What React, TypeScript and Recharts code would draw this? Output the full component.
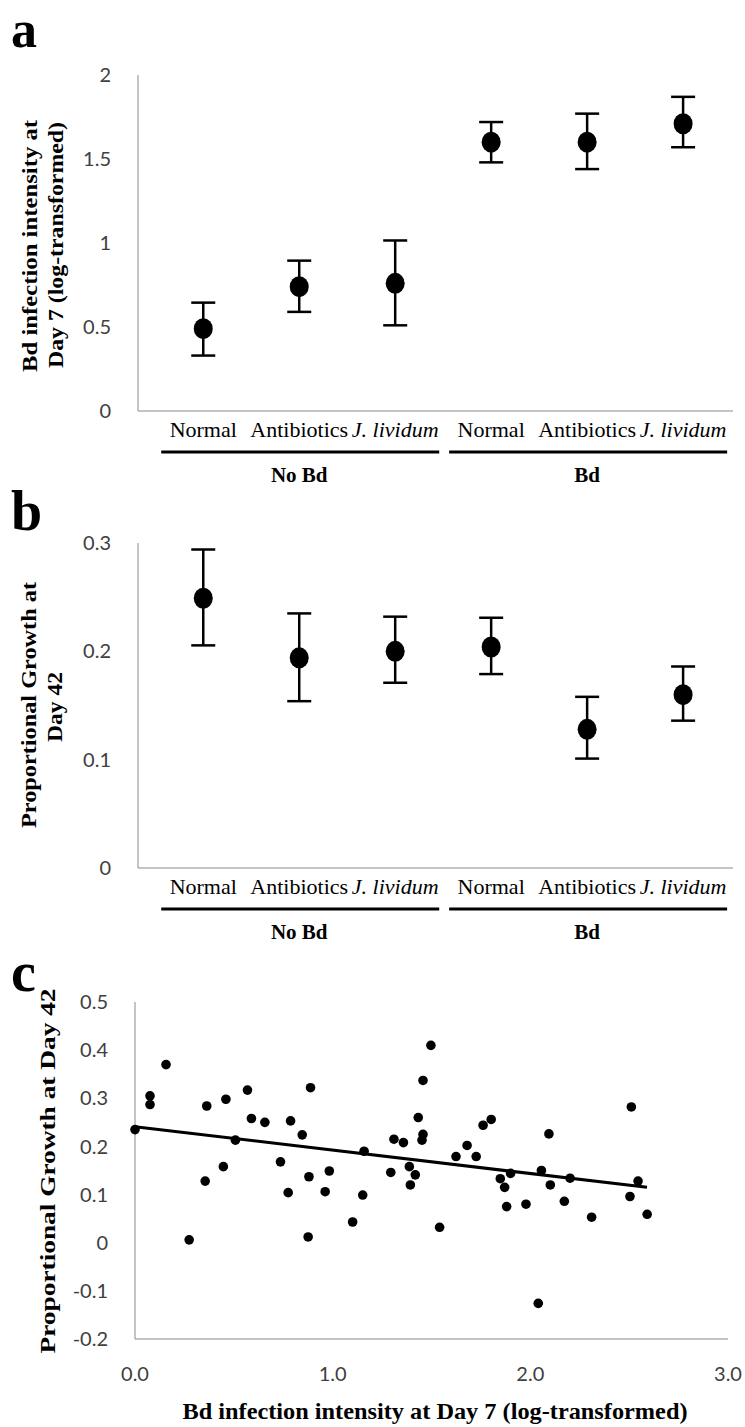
import React from 'react';
import { ScatterChart, Scatter, XAxis, YAxis, ErrorBar } from 'recharts';

// treatments on the x axis of panels a and b
const categories = ['Normal', 'Antibiotics', 'J. lividum', 'Normal', 'Antibiotics', 'J. lividum'];
const italicCategory = [false, false, true, false, false, true];
const categoryPos = [1, 2, 3, 4, 5, 6];
const categoryGroup = [0, 0, 0, 1, 1, 1];
const groupNames = ['No Bd', 'Bd'];

// panel a: Bd infection intensity at day 7 (mean, lower and upper error bar ends)
const intensityMean = [0.49, 0.74, 0.76, 1.6, 1.6, 1.71];
const intensityLow = [0.33, 0.59, 0.51, 1.48, 1.44, 1.57];
const intensityHigh = [0.645, 0.895, 1.015, 1.72, 1.77, 1.87];
const intensityTicks = [0, 0.5, 1, 1.5, 2];

// panel b: proportional growth at day 42
const growthMean = [0.249, 0.194, 0.2, 0.204, 0.128, 0.16];
const growthLow = [0.2055, 0.154, 0.171, 0.179, 0.101, 0.136];
const growthHigh = [0.294, 0.235, 0.232, 0.231, 0.158, 0.186];
const growthTicks = [0, 0.1, 0.2, 0.3];

// panel c: individual animals
const indivIntensity = [
  0, 0.076, 0.076, 0.157, 0.363, 0.355, 0.46, 0.447, 0.508, 0.274,
  0.569, 0.589, 0.657, 0.787, 0.736, 0.775, 0.846, 0.888, 0.88, 0.876,
  0.983, 0.962, 1.101, 1.152, 1.159, 1.294, 1.31, 1.358, 1.388, 1.418,
  1.393, 1.433, 1.457, 1.457, 1.452, 1.497, 1.541, 1.624, 1.68, 1.726,
  1.761, 1.802, 1.848, 1.87, 1.88, 1.9, 1.978, 2.056, 2.094, 2.101,
  2.172, 2.201, 2.31, 2.511, 2.504, 2.545, 2.591, 2.04,
];
const indivGrowth = [
  0.235, 0.305, 0.287, 0.37, 0.284, 0.128, 0.298, 0.158, 0.213, 0.006,
  0.317, 0.258, 0.25, 0.253, 0.168, 0.104, 0.224, 0.322, 0.137, 0.012,
  0.149, 0.106, 0.043, 0.099, 0.19, 0.146, 0.215, 0.208, 0.158, 0.141,
  0.12, 0.26, 0.337, 0.225, 0.213, 0.41, 0.032, 0.179, 0.202, 0.179,
  0.244, 0.256, 0.133, 0.115, 0.075, 0.144, 0.08, 0.15, 0.226, 0.12,
  0.086, 0.134, 0.053, 0.282, 0.096, 0.128, 0.059, -0.126,
];
const trendX = [0, 2.59];
const trendY = [0.241, 0.115];
const indivXTicks = [0, 1, 2, 3];
const indivYTicks = [-0.2, -0.1, 0, 0.1, 0.2, 0.3, 0.4, 0.5];

const SERIF = '"Liberation Serif", "Times New Roman", serif';
const SANS = 'Lato, "Open Sans", sans-serif';
const TICK_COLOR = '#404040';
const AXIS_COLOR = '#8a8a8a';
const CAT_DOMAIN: [number, number] = [0.32, 6.52];

const treatmentRows = (mean: number[], low: number[], high: number[]) =>
  mean.map((m, i) => ({ x: categoryPos[i], y: m, err: [m - low[i], high[i] - m] }));

// middle of each group, used to hang the group underline and name
const groupCenters = groupNames.map((_, g) => {
  const xs = categoryPos.filter((_, i) => categoryGroup[i] === g);
  return (xs[0] + xs[xs.length - 1]) / 2;
});

const indivRows = indivIntensity.map((x, i) => ({ x, y: indivGrowth[i] }));
const trendRows = trendX.map((x, i) => ({ x, y: trendY[i] }));

const CategoryTick = (props: any) => {
  const { x, y, payload } = props;
  const i = categoryPos.indexOf(payload.value);
  const g = groupCenters.indexOf(payload.value);
  return (
    <g>
      <text
        x={x}
        y={y + 26}
        textAnchor="middle"
        fontFamily={SERIF}
        fontSize={22}
        fontStyle={italicCategory[i] ? 'italic' : 'normal'}
        fill="#000"
      >
        {categories[i]}
      </text>
      {g >= 0 && (
        <g>
          <line x1={x - 138} x2={x + 140} y1={y + 41} y2={y + 41} stroke="#000" strokeWidth={3} />
          <text x={x} y={y + 71} textAnchor="middle" fontFamily={SERIF} fontWeight="bold" fontSize={21} fill="#000">
            {groupNames[g]}
          </text>
        </g>
      )}
    </g>
  );
};

const BigDot = (props: any) => <ellipse cx={props.cx} cy={props.cy} rx={9.5} ry={10.5} fill="#000" />;
const SmallDot = (props: any) => <circle cx={props.cx} cy={props.cy} r={4.8} fill="#000" />;
const NoDot = () => <g />;

function TreatmentPanel({ rows, yDomain, yTicks, top, height, marginTop }: any) {
  return (
    <div style={{ position: 'absolute', left: 0, top }}>
      <ScatterChart width={745} height={height} margin={{ top: marginTop, right: 12, bottom: 0, left: 0 }}>
        <XAxis
          type="number"
          dataKey="x"
          domain={CAT_DOMAIN}
          ticks={categoryPos}
          interval={0}
          tick={CategoryTick}
          tickLine={false}
          tickSize={0}
          tickMargin={0}
          axisLine={{ stroke: AXIS_COLOR }}
          height={89}
          allowDataOverflow
        />
        <YAxis
          type="number"
          dataKey="y"
          domain={yDomain}
          ticks={yTicks}
          interval={0}
          width={138}
          tickLine={false}
          tickSize={0}
          tickMargin={27}
          axisLine={{ stroke: AXIS_COLOR }}
          tick={{ fill: TICK_COLOR, fontSize: 20, fontFamily: SANS }}
        />
        <Scatter data={rows} dataKey="y" shape={BigDot} isAnimationActive={false}>
          <ErrorBar dataKey="err" direction="y" width={12} stroke="#000" strokeWidth={2.5} />
        </Scatter>
      </ScatterChart>
    </div>
  );
}

const titleStyle = { fontFamily: SERIF, fontWeight: 'bold' as const, fill: '#000' };

export default function App() {
  return (
    <div style={{ position: 'absolute', left: 0, top: 0, width: 745, height: 1427, background: '#fff' }}>
      <TreatmentPanel
        rows={treatmentRows(intensityMean, intensityLow, intensityHigh)}
        yDomain={[0, 2]}
        yTicks={intensityTicks}
        top={0}
        height={500}
        marginTop={75}
      />
      <TreatmentPanel
        rows={treatmentRows(growthMean, growthLow, growthHigh)}
        yDomain={[0, 0.3]}
        yTicks={growthTicks}
        top={500}
        height={457}
        marginTop={43}
      />
      <div style={{ position: 'absolute', left: 0, top: 957 }}>
        <ScatterChart width={745} height={470} margin={{ top: 45, right: 17, bottom: 0, left: 0 }}>
          <XAxis
            type="number"
            dataKey="x"
            domain={[0, 3]}
            ticks={indivXTicks}
            interval={0}
            tickFormatter={(v: number) => v.toFixed(1)}
            tickLine={false}
            tickSize={0}
            tickMargin={28}
            axisLine={{ stroke: AXIS_COLOR }}
            tick={{ fill: TICK_COLOR, fontSize: 20, fontFamily: SANS }}
            height={88}
          />
          <YAxis
            type="number"
            dataKey="y"
            domain={[-0.2, 0.5]}
            ticks={indivYTicks}
            interval={0}
            width={135}
            tickLine={false}
            tickSize={0}
            tickMargin={27}
            axisLine={{ stroke: AXIS_COLOR }}
            tick={{ fill: TICK_COLOR, fontSize: 20, fontFamily: SANS }}
          />
          <Scatter data={indivRows} shape={SmallDot} isAnimationActive={false} />
          <Scatter
            data={trendRows}
            shape={NoDot}
            line={{ stroke: '#000', strokeWidth: 3 }}
            isAnimationActive={false}
          />
        </ScatterChart>
      </div>
      <svg width={745} height={1427} style={{ position: 'absolute', left: 0, top: 0, pointerEvents: 'none' }}>
        <text x={11} y={47} fontSize={52} {...titleStyle}>a</text>
        <text x={11} y={530} fontSize={56} {...titleStyle}>b</text>
        <text x={11} y={991} fontSize={56} {...titleStyle}>c</text>

        <text transform="translate(37,246) rotate(-90)" textAnchor="middle" fontSize={20} textLength={252} lengthAdjust="spacingAndGlyphs" {...titleStyle}>
          Bd infection intensity at
        </text>
        <text transform="translate(63,245) rotate(-90)" textAnchor="middle" fontSize={20} textLength={246} lengthAdjust="spacingAndGlyphs" {...titleStyle}>
          Day 7 (log-transformed)
        </text>

        <text transform="translate(36,705) rotate(-90)" textAnchor="middle" fontSize={20} textLength={246} lengthAdjust="spacingAndGlyphs" {...titleStyle}>
          Proportional Growth at
        </text>
        <text transform="translate(62,707) rotate(-90)" textAnchor="middle" fontSize={20} textLength={70} lengthAdjust="spacingAndGlyphs" {...titleStyle}>
          Day 42
        </text>

        <text transform="translate(55,1171) rotate(-90)" textAnchor="middle" fontSize={21} textLength={365} lengthAdjust="spacingAndGlyphs" {...titleStyle}>
          Proportional Growth at Day 42
        </text>
        <text x={435} y={1419} textAnchor="middle" fontSize={24} textLength={505} lengthAdjust="spacingAndGlyphs" {...titleStyle}>
          Bd infection intensity at Day 7 (log-transformed)
        </text>
      </svg>
    </div>
  );
}
